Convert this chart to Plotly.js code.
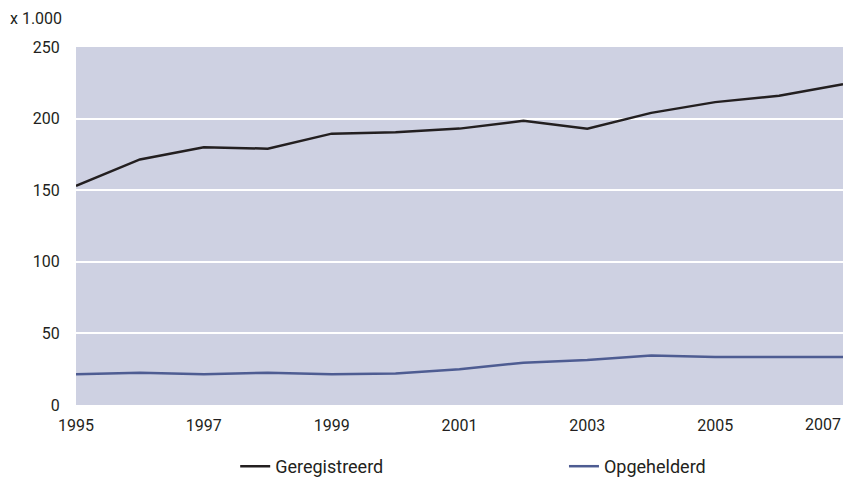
<!DOCTYPE html>
<html>
<head>
<meta charset="utf-8">
<script src="https://cdn.plot.ly/plotly-3.0.1.min.js"></script>
<style>html,body{margin:0;padding:0;background:#fff;}#chart{width:843px;height:477px;}</style>
</head>
<body>
<div id="chart"></div>
<script>
const years = [1995,1996,1997,1998,1999,2000,2001,2002,2003,2004,2005,2006,2007];
const geregistreerd = [153,171.5,180,179,189.5,190.5,193,198.5,193,204,211.5,216,224];
const opgehelderd = [21.5,22.5,21.5,22.5,21.5,22,25,29.5,31.5,34.5,33.5,33.5,33.5];
const xTickVals = [1995,1997,1999,2001,2003,2005];
const xTickText = ['1995','1997','1999','2001','2003','2005'];
const lastYearLabel = '2007';
const yTickVals = [0,50,100,150,200,250];
const seriesNames = ['Geregistreerd','Opgehelderd'];
const unitLabel = 'x 1.000';

const font = {family:'Roboto, "Liberation Sans", sans-serif', size:16, color:'#231f20'};
const legendFont = {family:'Roboto, "Liberation Sans", sans-serif', size:18, color:'#231f20'};

const data = [
  {x: years, y: geregistreerd, name: seriesNames[0], type:'scatter', mode:'lines',
   line:{color:'#231f20', width:2.5}, legend:'legend'},
  {x: years, y: opgehelderd, name: seriesNames[1], type:'scatter', mode:'lines',
   line:{color:'#4e5c92', width:2.5}, legend:'legend2'}
];

const legendBase = {orientation:'h', xref:'container', yref:'container', xanchor:'left',
  y:0.022, yanchor:'middle', font:legendFont, bgcolor:'rgba(0,0,0,0)'};

const layout = {
  width:843, height:477,
  margin:{l:76, r:0, t:47, b:72},
  paper_bgcolor:'#ffffff',
  plot_bgcolor:'#ced1e2',
  font: font,
  showlegend:true,
  legend: Object.assign({}, legendBase, {x:0.279}),
  legend2: Object.assign({}, legendBase, {x:0.669}),
  xaxis:{range:[1995,2007], tickvals:xTickVals, ticktext:xTickText,
         showgrid:false, zeroline:false, showline:false,
         ticks:'outside', ticklen:6, tickcolor:'rgba(0,0,0,0)', tickfont:font, fixedrange:true},
  yaxis:{range:[0,250], tickvals:yTickVals, showgrid:true, gridcolor:'#ffffff', gridwidth:2,
         zeroline:false, showline:false,
         ticks:'outside', ticklen:12, tickcolor:'rgba(0,0,0,0)', tickfont:font, fixedrange:true},
  annotations:[
    {text: unitLabel, xref:'paper', yref:'paper', x:-0.089, y:1.081, xanchor:'left', yanchor:'middle',
     showarrow:false, font:font},
    {text: lastYearLabel, xref:'x', yref:'paper', x:2007, y:0, xanchor:'right', yanchor:'top',
     yshift:-8, showarrow:false, font:font}
  ]
};

Plotly.newPlot('chart', data, layout, {displayModeBar:false, staticPlot:true});
</script>
</body>
</html>
